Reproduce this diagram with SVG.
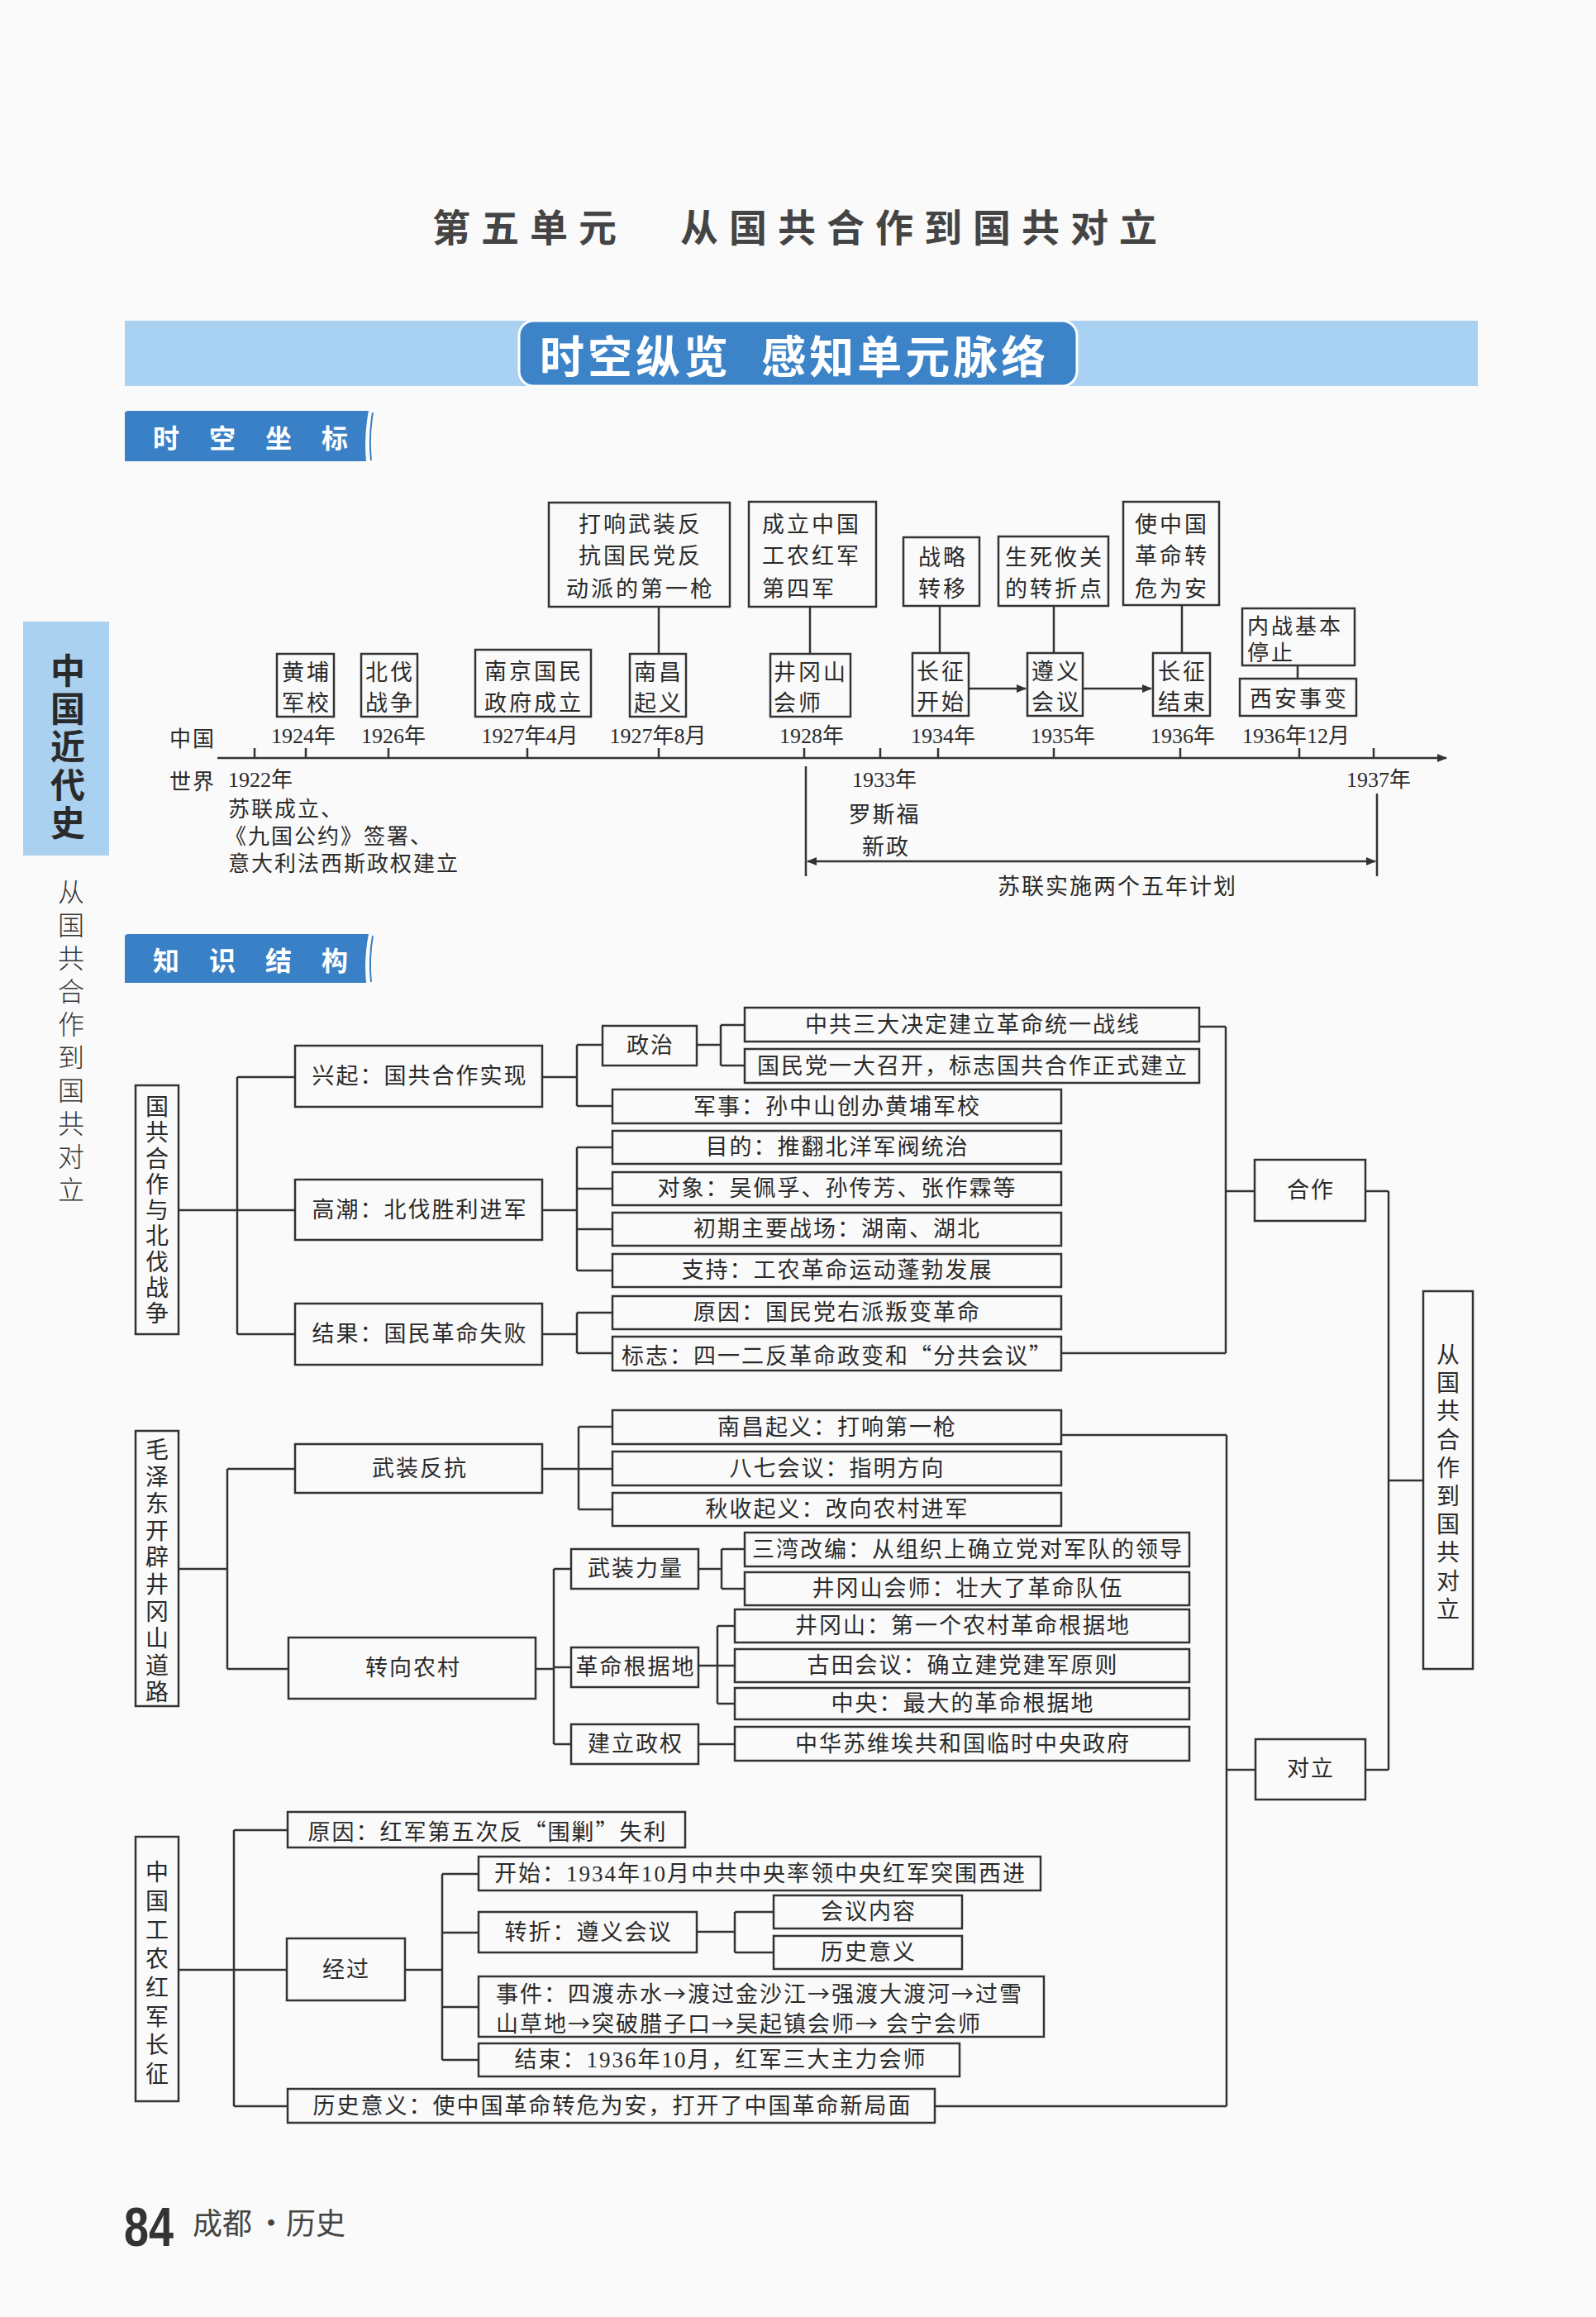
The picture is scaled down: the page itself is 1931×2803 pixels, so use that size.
<svg xmlns="http://www.w3.org/2000/svg" width="1931" height="2803" viewBox="0 0 1931 2803">
<style>
.bx{fill:none;stroke:#333;stroke-width:2.5}
.ln{fill:none;stroke:#333;stroke-width:2.5}
.t{font-family:"Liberation Serif","Noto Sans CJK SC",serif;font-size:27px;fill:#2a2a2a;letter-spacing:2px;dominant-baseline:central}
.cj{font-family:"Noto Sans CJK SC",sans-serif;font-size:27px;fill:#2a2a2a;letter-spacing:2px;dominant-baseline:central}
.tb{font-family:"Noto Sans CJK SC",sans-serif;font-size:27px;fill:#2a2a2a;letter-spacing:3px;dominant-baseline:central}
.yr{font-family:"Liberation Serif","Noto Sans CJK SC",serif;font-size:26px;fill:#2a2a2a;dominant-baseline:central;text-anchor:middle}
.m{text-anchor:middle}
.vt{font-family:"Noto Sans CJK SC",sans-serif;font-size:28px;fill:#2a2a2a;dominant-baseline:central;text-anchor:middle}
.tab{font-family:"Noto Sans CJK SC",sans-serif;font-size:32px;font-weight:bold;fill:#fff;letter-spacing:36px;dominant-baseline:central}
</style>
<defs>
<marker id="ah" viewBox="0 0 10 10" refX="9" refY="5" markerWidth="5" markerHeight="5" orient="auto-start-reverse"><path d="M0,1 L10,5 L0,9 Z" fill="#333"/></marker>
<linearGradient id="ul" x1="0" y1="0" x2="1" y2="0"><stop offset="0" stop-color="#9cc7ee"/><stop offset="0.5" stop-color="#3f86cc"/><stop offset="1" stop-color="#a9d0f2"/></linearGradient>
</defs>
<rect x="0" y="0" width="1931" height="2803" fill="#fafafa"/>

<!-- Title -->
<g id="title">
<text x="523" y="272" style="font-family:'Noto Sans CJK SC',sans-serif;font-size:46px;font-weight:bold;fill:#444;letter-spacing:13px;dominant-baseline:central">第五单元</text>
<text x="823" y="272" style="font-family:'Noto Sans CJK SC',sans-serif;font-size:46px;font-weight:bold;fill:#444;letter-spacing:13px;dominant-baseline:central">从国共合作到国共对立</text>
</g>

<!-- Header banner -->
<g id="banner">
<rect x="151" y="388" width="1637" height="79" fill="#a9d1f2"/>
<rect x="628" y="388" width="675" height="79" rx="18" fill="#3c83c8" stroke="#fff" stroke-width="3"/>
<text x="653" y="428" style="font-family:'Noto Sans CJK SC',sans-serif;font-size:54px;font-weight:bold;fill:#fff;letter-spacing:4px;word-spacing:20px;dominant-baseline:central">时空纵览 感知单元脉络</text>
</g>

<!-- Side bar -->
<g id="sidebar">
<rect x="28" y="752" width="104" height="283" fill="#aad1f0"/>
<text x="82 82 82 82 82" y="808 854 900 946 992" style="font-family:'Noto Sans CJK SC',sans-serif;font-size:42px;font-weight:bold;fill:#2a2a2a;dominant-baseline:central;text-anchor:middle">中国近代史</text>
<text x="86 86 86 86 86 86 86 86 86 86" y="1077 1117 1157 1197 1237 1277 1317 1357 1397 1437" style="font-family:'Noto Sans CJK SC',sans-serif;font-size:32px;font-weight:300;fill:#333;dominant-baseline:central;text-anchor:middle">从国共合作到国共对立</text>
</g>

<!-- Section tabs -->
<g id="tab-skzb">
<path d="M151,500 Q151,497 156,497 L446,497 Q440,528 443,558 L151,558 Z" fill="#3a80c6"/>
<path d="M451,499 Q446,528 449,557" fill="none" stroke="#3a80c6" stroke-width="2"/>
<text x="185" y="528" class="tab">时空坐标</text>
</g>
<g id="tab-zsjg">
<path d="M151,1133 Q151,1130 156,1130 L446,1130 Q440,1160 443,1189 L151,1189 Z" fill="#3a80c6"/>
<path d="M451,1132 Q446,1160 449,1188" fill="none" stroke="#3a80c6" stroke-width="2"/>
<text x="185" y="1160" class="tab">知识结构</text>
</g>

<!-- Timeline labels -->
<g id="tl-labels">
<text x="233" y="891" class="cj m" style="font-size:26px">中国</text>
<text x="233" y="943" class="cj m" style="font-size:26px">世界</text>
<text x="367" y="890" class="yr">1924年</text>
<text x="476" y="890" class="yr">1926年</text>
<text x="641" y="890" class="yr">1927年4月</text>
<text x="796" y="890" class="yr">1927年8月</text>
<text x="982" y="890" class="yr">1928年</text>
<text x="1141" y="890" class="yr">1934年</text>
<text x="1286" y="890" class="yr">1935年</text>
<text x="1431" y="890" class="yr">1936年</text>
<text x="1568" y="890" class="yr">1936年12月</text>
<text x="276" y="943" class="yr" style="text-anchor:start">1922年</text>
<text x="276" y="976" class="cj" style="font-size:26px">苏联成立、</text>
<text x="272" y="1009" class="cj" style="font-size:26px">《九国公约》签署、</text>
<text x="276" y="1042" class="cj" style="font-size:26px">意大利法西斯政权建立</text>
<text x="1070" y="943" class="yr">1933年</text>
<text x="1070" y="983" class="cj m">罗斯福</text>
<text x="1072" y="1022" class="cj m">新政</text>
<text x="1668" y="943" class="yr">1937年</text>
<text x="1352" y="1070" class="cj m">苏联实施两个五年计划</text>
</g>

<!-- Timeline nodes -->
<g id="tl-hpjx"><rect class="bx" x="335" y="791" width="69" height="76"/><text class="tb m" x="371" y="811">黄埔</text><text class="tb m" x="371" y="848">军校</text></g>
<g id="tl-bfzz"><rect class="bx" x="437" y="791" width="68" height="76"/><text class="tb m" x="472" y="811">北伐</text><text class="tb m" x="472" y="848">战争</text></g>
<g id="tl-njzf"><rect class="bx" x="575" y="786" width="140" height="81"/><text class="tb m" x="646" y="810">南京国民</text><text class="tb m" x="646" y="848">政府成立</text></g>
<g id="tl-ncqy"><rect class="bx" x="762" y="791" width="68" height="76"/><text class="tb m" x="797" y="811">南昌</text><text class="tb m" x="797" y="848">起义</text></g>
<g id="tl-jgshs"><rect class="bx" x="932" y="791" width="97" height="76"/><text class="tb" x="936" y="811">井冈山</text><text class="tb" x="936" y="848">会师</text></g>
<g id="tl-czks"><rect class="bx" x="1104" y="790" width="68" height="76"/><text class="tb m" x="1139" y="810">长征</text><text class="tb m" x="1139" y="847">开始</text></g>
<g id="tl-zyhy"><rect class="bx" x="1243" y="790" width="67" height="76"/><text class="tb m" x="1278" y="810">遵义</text><text class="tb m" x="1278" y="847">会议</text></g>
<g id="tl-czjs"><rect class="bx" x="1395" y="790" width="69" height="76"/><text class="tb m" x="1431" y="810">长征</text><text class="tb m" x="1431" y="847">结束</text></g>
<g id="tl-xasb"><rect class="bx" x="1500" y="821" width="141" height="45"/><text class="tb m" x="1572" y="843">西安事变</text></g>
<g id="tl-nztz"><rect class="bx" x="1503" y="736" width="136" height="69"/><text class="tb" x="1509" y="755" style="font-size:26px">内战基本</text><text class="tb" x="1509" y="787" style="font-size:26px">停止</text></g>
<g id="tl-dxwz"><rect class="bx" x="664" y="608" width="219" height="126"/><text class="tb m" x="775" y="632">打响武装反</text><text class="tb m" x="775" y="670">抗国民党反</text><text class="tb m" x="775" y="710">动派的第一枪</text></g>
<g id="tl-clhj"><rect class="bx" x="906" y="607" width="154" height="127"/><text class="tb" x="922" y="632">成立中国</text><text class="tb" x="922" y="670">工农红军</text><text class="tb" x="922" y="710">第四军</text></g>
<g id="tl-zlzy"><rect class="bx" x="1093" y="650" width="92" height="83"/><text class="tb m" x="1141" y="672">战略</text><text class="tb m" x="1141" y="710">转移</text></g>
<g id="tl-sshg"><rect class="bx" x="1208" y="649" width="133" height="84"/><text class="tb m" x="1276" y="672">生死攸关</text><text class="tb m" x="1276" y="710">的转折点</text></g>
<g id="tl-szgg"><rect class="bx" x="1359" y="607" width="116" height="125"/><text class="tb m" x="1418" y="632">使中国</text><text class="tb m" x="1418" y="670">革命转</text><text class="tb m" x="1418" y="710">危为安</text></g>

<!-- Knowledge structure nodes: group 1 -->
<g id="k-g1"><rect class="bx" x="164" y="1313" width="52" height="301"/><text class="vt" x="190 190 190 190 190 190 190 190 190" y="1337 1368 1400 1431 1462 1493 1525 1556 1587">国共合作与北伐战争</text></g>
<g id="k-xq"><rect class="bx" x="357" y="1265" width="299" height="74"/><text class="t m" x="508" y="1302">兴起：国共合作实现</text></g>
<g id="k-gc"><rect class="bx" x="357" y="1427" width="299" height="73"/><text class="t m" x="508" y="1464">高潮：北伐胜利进军</text></g>
<g id="k-jg"><rect class="bx" x="357" y="1577" width="299" height="74"/><text class="t m" x="508" y="1614">结果：国民革命失败</text></g>
<g id="k-zz"><rect class="bx" x="729" y="1241" width="114" height="48"/><text class="t m" x="787" y="1265">政治</text></g>
<g id="k-zgsd"><rect class="bx" x="901" y="1219" width="550" height="41"/><text class="t m" x="1177" y="1240">中共三大决定建立革命统一战线</text></g>
<g id="k-gmyd"><rect class="bx" x="901" y="1269" width="550" height="41"/><text class="t m" x="1177" y="1290">国民党一大召开，标志国共合作正式建立</text></g>
<g id="k-js"><rect class="bx" x="741" y="1318" width="543" height="41"/><text class="t m" x="1013" y="1339">军事：孙中山创办黄埔军校</text></g>
<g id="k-md"><rect class="bx" x="741" y="1368" width="543" height="40"/><text class="t m" x="1013" y="1388">目的：推翻北洋军阀统治</text></g>
<g id="k-dx"><rect class="bx" x="741" y="1418" width="543" height="40"/><text class="t m" x="1013" y="1438">对象：吴佩孚、孙传芳、张作霖等</text></g>
<g id="k-cq"><rect class="bx" x="741" y="1467" width="543" height="40"/><text class="t m" x="1013" y="1487">初期主要战场：湖南、湖北</text></g>
<g id="k-zc"><rect class="bx" x="741" y="1517" width="543" height="40"/><text class="t m" x="1013" y="1537">支持：工农革命运动蓬勃发展</text></g>
<g id="k-yy1"><rect class="bx" x="741" y="1568" width="543" height="40"/><text class="t m" x="1013" y="1588">原因：国民党右派叛变革命</text></g>
<g id="k-bz"><rect class="bx" x="741" y="1617" width="543" height="41"/><text class="cj m" x="1013" y="1638">标志：四一二反革命政变和“分共会议”</text></g>
<g id="k-hz"><rect class="bx" x="1518" y="1403" width="134" height="74"/><text class="t m" x="1586" y="1440">合作</text></g>
<g id="k-root"><rect class="bx" x="1722" y="1562" width="60" height="457"/><text class="vt" x="1752 1752 1752 1752 1752 1752 1752 1752 1752 1752" y="1637 1671 1705 1740 1774 1808 1842 1876 1911 1945">从国共合作到国共对立</text></g>

<!-- group 2 -->
<g id="k-g2"><rect class="bx" x="164" y="1731" width="52" height="333"/><text class="vt" x="190 190 190 190 190 190 190 190 190 190" y="1752 1785 1817 1850 1882 1915 1948 1980 2013 2045">毛泽东开辟井冈山道路</text></g>
<g id="k-wzfk"><rect class="bx" x="357" y="1747" width="299" height="59"/><text class="t m" x="508" y="1777">武装反抗</text></g>
<g id="k-zxnc"><rect class="bx" x="349" y="1981" width="299" height="74"/><text class="t m" x="500" y="2018">转向农村</text></g>
<g id="k-ncqy"><rect class="bx" x="741" y="1706" width="543" height="41"/><text class="t m" x="1013" y="1727">南昌起义：打响第一枪</text></g>
<g id="k-bqhy"><rect class="bx" x="741" y="1756" width="543" height="41"/><text class="t m" x="1013" y="1777">八七会议：指明方向</text></g>
<g id="k-qsqy"><rect class="bx" x="741" y="1806" width="543" height="40"/><text class="t m" x="1013" y="1826">秋收起义：改向农村进军</text></g>
<g id="k-wzll"><rect class="bx" x="691" y="1874" width="154" height="48"/><text class="t m" x="769" y="1898">武装力量</text></g>
<g id="k-gmgjd"><rect class="bx" x="691" y="1993" width="154" height="48"/><text class="t m" x="769" y="2017">革命根据地</text></g>
<g id="k-jlzq"><rect class="bx" x="691" y="2086" width="154" height="48"/><text class="t m" x="769" y="2110">建立政权</text></g>
<g id="k-swgb"><rect class="bx" x="901" y="1854" width="538" height="41"/><text class="t m" x="1171" y="1875">三湾改编：从组织上确立党对军队的领导</text></g>
<g id="k-jgshs"><rect class="bx" x="901" y="1902" width="538" height="40"/><text class="t m" x="1171" y="1922">井冈山会师：壮大了革命队伍</text></g>
<g id="k-jgs"><rect class="bx" x="889" y="1947" width="550" height="40"/><text class="t m" x="1165" y="1967">井冈山：第一个农村革命根据地</text></g>
<g id="k-gthy"><rect class="bx" x="889" y="1995" width="550" height="40"/><text class="t m" x="1165" y="2015">古田会议：确立建党建军原则</text></g>
<g id="k-zy"><rect class="bx" x="889" y="2042" width="550" height="38"/><text class="t m" x="1165" y="2061">中央：最大的革命根据地</text></g>
<g id="k-zhsw"><rect class="bx" x="889" y="2089" width="550" height="41"/><text class="t m" x="1165" y="2110">中华苏维埃共和国临时中央政府</text></g>
<g id="k-dl"><rect class="bx" x="1519" y="2104" width="133" height="73"/><text class="t m" x="1586" y="2140">对立</text></g>

<!-- group 3 -->
<g id="k-g3"><rect class="bx" x="164" y="2222" width="52" height="320"/><text class="vt" x="190 190 190 190 190 190 190 190" y="2263 2298 2333 2368 2403 2438 2472 2507">中国工农红军长征</text></g>
<g id="k-yy3"><rect class="bx" x="348" y="2192" width="481" height="43"/><text class="cj m" x="590" y="2214">原因：红军第五次反“围剿”失利</text></g>
<g id="k-jgo"><rect class="bx" x="347" y="2345" width="143" height="75"/><text class="t m" x="419" y="2383">经过</text></g>
<g id="k-lsyy"><rect class="bx" x="348" y="2527" width="783" height="41"/><text class="t m" x="741" y="2548">历史意义：使中国革命转危为安，打开了中国革命新局面</text></g>
<g id="k-ks"><rect class="bx" x="579" y="2246" width="680" height="41"/><text class="t m" x="920" y="2267">开始：1934年10月中共中央率领中央红军突围西进</text></g>
<g id="k-zzh"><rect class="bx" x="579" y="2313" width="264" height="49"/><text class="t m" x="712" y="2338">转折：遵义会议</text></g>
<g id="k-hynr"><rect class="bx" x="936" y="2293" width="228" height="40"/><text class="t m" x="1051" y="2313">会议内容</text></g>
<g id="k-lsyy2"><rect class="bx" x="936" y="2342" width="228" height="40"/><text class="t m" x="1051" y="2362">历史意义</text></g>
<g id="k-sj"><rect class="bx" x="579" y="2391" width="684" height="73"/><text class="cj" x="600" y="2410">事件：四渡赤水→渡过金沙江→强渡大渡河→过雪</text><text class="cj" x="600" y="2446">山草地→突破腊子口→吴起镇会师→ 会宁会师</text></g>
<g id="k-jsu"><rect class="bx" x="579" y="2472" width="582" height="40"/><text class="t m" x="872" y="2492">结束：1936年10月，红军三大主力会师</text></g>

<!-- Connectors -->
<g id="connectors">
<line class="ln" x1="263" y1="917" x2="1750" y2="917" marker-end="url(#ah)"/>
<path class="ln" d="M308,905V917 M370,905V917 M470,905V917 M638,905V917 M797,905V917 M973,905V917 M1065,905V917 M1135,905V917 M1275,905V917 M1428,905V917 M1572,905V917 M1662,905V917"/>
<path class="ln" d="M797,734V791 M980,734V791 M1137,733V790 M1275,733V790 M1430,732V790 M1570,805V821"/>
<line class="ln" x1="1172" y1="833" x2="1241" y2="833" marker-end="url(#ah)"/>
<line class="ln" x1="1310" y1="833" x2="1393" y2="833" marker-end="url(#ah)"/>
<path class="ln" d="M975,927V1060 M1666,960V1060"/>
<line class="ln" x1="977" y1="1042" x2="1664" y2="1042" marker-start="url(#ah)" marker-end="url(#ah)"/>

<path class="ln" d="M216,1464H287 M287,1303V1614 M287,1303H357 M287,1464H357 M287,1614H357"/>
<path class="ln" d="M656,1303H698 M698,1264V1338 M698,1264H729 M698,1338H741"/>
<path class="ln" d="M843,1264H872 M872,1240V1289 M872,1240H901 M872,1289H901"/>
<path class="ln" d="M656,1464H698 M698,1388V1537 M698,1388H741 M698,1438H741 M698,1487H741 M698,1537H741"/>
<path class="ln" d="M656,1614H698 M698,1588V1637 M698,1588H741 M698,1637H741"/>
<path class="ln" d="M1451,1242H1483 M1284,1637H1483 M1483,1242V1637 M1483,1441H1518"/>
<path class="ln" d="M1652,1441H1680 M1680,1441V2141 M1680,1791H1722 M1652,2141H1680"/>

<path class="ln" d="M216,1898H275 M275,1777V2019 M275,1777H357 M275,2019H349"/>
<path class="ln" d="M656,1777H700 M700,1726V1826 M700,1726H741 M700,1777H741 M700,1826H741"/>
<path class="ln" d="M648,2019H670 M670,1898V2110 M670,1898H691 M670,2017H691 M670,2110H691"/>
<path class="ln" d="M845,1898H873 M873,1874V1922 M873,1874H901 M873,1922H901"/>
<path class="ln" d="M845,2015H868 M868,1967V2061 M868,1967H889 M868,2015H889 M868,2061H889"/>
<path class="ln" d="M845,2110H889"/>
<path class="ln" d="M1284,1736H1484 M1484,1736V2548 M1484,2141H1519"/>

<path class="ln" d="M216,2383H283 M283,2214V2548 M283,2214H348 M283,2383H347 M283,2548H348"/>
<path class="ln" d="M490,2383H535 M535,2267V2492 M535,2267H579 M535,2338H579 M535,2428H579 M535,2492H579"/>
<path class="ln" d="M843,2337H889 M889,2313V2362 M889,2313H936 M889,2362H936"/>
<path class="ln" d="M1131,2548H1484"/>
</g>

<!-- Footer -->
<g id="footer">
<text x="150" y="2717" textLength="60" lengthAdjust="spacingAndGlyphs" style="font-family:'Liberation Sans',sans-serif;font-size:66px;font-weight:bold;fill:#333">84</text>
<text y="2687" style="font-family:'Noto Sans CJK SC',sans-serif;font-size:36px;fill:#444;dominant-baseline:central"><tspan x="233">成都</tspan><tspan x="310">·</tspan><tspan x="346">历史</tspan></text>
<line x1="257" y1="2711" x2="390" y2="2711" stroke="url(#ul)" stroke-width="4" stroke-linecap="round"/>
</g>
</svg>
